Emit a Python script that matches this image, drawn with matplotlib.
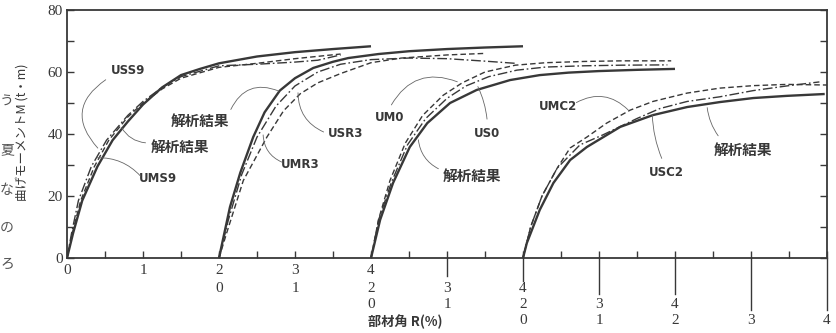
import numpy as np
import matplotlib
matplotlib.use("Agg")
import matplotlib.pyplot as plt
from matplotlib.transforms import blended_transform_factory

# fonts
plt.rcParams['font.family'] = ['Noto Sans CJK JP', 'DejaVu Sans']
ink = '#383838'

# --------------------------------------------------------------
# data: R (%) measured from each group's own origin, M (t・m)
# group offsets on the shared x axis
offsets = [0, 2, 4, 6]

# group 1 : USS9 / UMS9
g1_solid_r = [0, 0.08, 0.2, 0.4, 0.6, 0.8, 1.0, 1.25, 1.5, 1.75, 2.0, 2.5, 3.0, 3.5, 4.0]
g1_solid_m = [0, 8, 18.5, 29.5, 38, 44, 49.5, 55, 59, 61, 62.8, 65.0, 66.4, 67.4, 68.3]
g1_dash_r = [0, 0.07, 0.18, 0.36, 0.55, 0.8, 1.0, 1.25, 1.5, 2.0, 2.5, 3.0, 3.6]
g1_dash_m = [0, 8, 18.5, 29.5, 38, 45.5, 50, 54.5, 58, 61.5, 62.8, 64.3, 65.8]
g1_dd_r = [0, 0.06, 0.15, 0.32, 0.52, 0.8, 1.0, 1.25, 1.5, 2.0, 2.5, 3.0, 3.3, 3.6]
g1_dd_m = [0, 8, 18.5, 29.5, 38, 46, 50.5, 55, 58.5, 62, 62.5, 63.2, 63.8, 65.5]

# group 2 : USR3 / UMR3
g2_solid_r = [0, 0.145, 0.28, 0.45, 0.6, 0.8, 1.0, 1.24, 1.5, 1.7, 2.1, 2.5, 3.0, 3.5, 4.0]
g2_solid_m = [0, 16.5, 27.5, 39, 47, 54, 58, 61.3, 63.3, 64.5, 65.8, 66.7, 67.4, 67.9, 68.3]
g2_dash_r = [0, 0.1, 0.32, 0.63, 0.85, 1.07, 1.3, 1.6, 2.0, 2.4, 3.0, 3.5]
g2_dash_m = [0, 8, 25, 39, 47.5, 53, 56.5, 59.5, 63, 64.5, 65.5, 66]
g2_dd_r = [0, 0.12, 0.3, 0.5, 0.75, 1.0, 1.3, 1.6, 2.0, 2.5, 3.0, 3.5, 3.9]
g2_dd_m = [0, 12, 27, 39, 49, 55.5, 60, 62.5, 64, 64.5, 64.3, 63.5, 62.8]

# group 3 : UM0 / US0
g3_solid_r = [0, 0.12, 0.29, 0.51, 0.74, 1.04, 1.39, 1.83, 2.22, 2.6, 3.0, 3.5, 4.0]
g3_solid_m = [0, 12.3, 24.2, 35.8, 43.5, 50, 54.2, 57.4, 59, 59.8, 60.3, 60.7, 61]
g3_dash_r = [0, 0.1, 0.25, 0.45, 0.68, 0.95, 1.2, 1.5, 1.9, 2.3, 2.8, 3.3, 3.95]
g3_dash_m = [0, 12.5, 25, 37, 46, 52.5, 56.5, 60, 62.2, 63, 63.4, 63.6, 63.6]
g3_dd_r = [0, 0.1, 0.27, 0.48, 0.72, 1.0, 1.25, 1.55, 1.92, 2.3, 2.8, 3.3, 3.9]
g3_dd_m = [0, 12.3, 24.5, 36.5, 45, 51.5, 55.5, 58.5, 60.6, 61.6, 62, 62.2, 62.3]

# group 4 : UMC2 / USC2
g4_solid_r = [0, 0.05, 0.22, 0.4, 0.62, 0.84, 1.28, 1.71, 2.16, 2.59, 3.03, 3.47, 3.97]
g4_solid_m = [0, 4.8, 15.5, 24.2, 31.6, 35.8, 42.3, 46.1, 48.7, 50.3, 51.6, 52.3, 52.9]
g4_dash_r = [0, 0.1, 0.25, 0.45, 0.62, 0.84, 1.1, 1.41, 1.71, 2.16, 2.59, 3.03, 3.47, 4.0]
g4_dash_m = [0, 10, 20, 29, 35.5, 39, 43.5, 47.7, 50.5, 53.2, 54.8, 55.6, 56, 55.8]
g4_dd_r = [0, 0.1, 0.25, 0.45, 0.75, 1.05, 1.5, 1.8, 2.16, 2.59, 3.03, 3.47, 3.9]
g4_dd_m = [0, 10, 20, 29, 36.5, 39.7, 45, 48.2, 50.5, 52, 54, 55.5, 56.8]

groups = [
    (g1_solid_r, g1_solid_m, g1_dash_r, g1_dash_m, g1_dd_r, g1_dd_m),
    (g2_solid_r, g2_solid_m, g2_dash_r, g2_dash_m, g2_dd_r, g2_dd_m),
    (g3_solid_r, g3_solid_m, g3_dash_r, g3_dash_m, g3_dd_r, g3_dd_m),
    (g4_solid_r, g4_solid_m, g4_dash_r, g4_dash_m, g4_dd_r, g4_dd_m),
]

# x tick label rows: every row reads 0..4 starting at its own origin
row_values = [0, 1, 2, 3, 4]
row_starts = [0, 2, 4, 6]

# labels: (text, text position, leader start, leader end, curvature)
labels = [
    ('USS9', (0.80, 60.6), (0.54, 58.0), (0.43, 34.8), 0.6),
    ('解析結果', (1.49, 35.8), (1.07, 37.1), (0.70, 42.9), -0.3),
    ('UMS9', (1.20, 25.5), (0.99, 25.8), (0.36, 32.3), 0.25),
    ('解析結果', (1.75, 44.2), (2.14, 47.1), (2.82, 53.5), -0.5),
    ('USR3', (3.66, 40.3), (3.41, 40.3), (3.04, 54.2), -0.35),
    ('UMR3', (3.07, 30.0), (2.86, 30.6), (2.58, 40.6), -0.35),
    ('UM0', (4.25, 45.2), (4.25, 48.6), (5.17, 56.5), -0.45),
    ('US0', (5.53, 40.3), (5.53, 43.9), (5.39, 56.1), 0.1),
    ('解析結果', (5.33, 26.5), (4.92, 28.4), (4.62, 39.0), -0.3),
    ('UMC2', (6.46, 49.0), (6.67, 49.7), (7.41, 47.1), -0.4),
    ('USC2', (7.88, 27.7), (7.84, 31.3), (7.70, 47.1), -0.1),
    ('解析結果', (8.89, 34.8), (8.59, 38.7), (8.42, 49.4), -0.15),
]

# --------------------------------------------------------------
fig = plt.figure(figsize=(8.36, 3.33), dpi=100)
ax = fig.add_axes([67 / 836, 75 / 333, 760 / 836, 248 / 333])

for off, (sr, sm, dr, dm, ddr, ddm) in zip(offsets, groups):
    ax.plot(np.array(sr) + off, sm, color=ink, lw=1.7, solid_capstyle='butt')
    ax.plot(np.array(dr) + off, dm, color=ink, lw=1.0, dashes=(4, 2.2))
    ax.plot(np.array(ddr) + off, ddm, color=ink, lw=1.0, dashes=(7, 2, 1.2, 2))

# label texts and leader lines
for txt, tpos, lstart, lend, rad in labels:
    if txt == '解析結果':
        ax.text(tpos[0], tpos[1], txt, ha='center', va='center', fontsize=10.5,
                fontweight='bold', color=ink)
    else:
        ax.text(tpos[0], tpos[1], txt, ha='center', va='center', fontsize=8.5,
                fontweight='bold', color=ink, family=['DejaVu Sans'])
    ax.annotate('', xy=lend, xytext=lstart,
                arrowprops=dict(arrowstyle='-', lw=0.6, color='#666666',
                                connectionstyle='arc3,rad=%s' % rad))

# axes setup
ax.set_xlim(0, 10)
ax.set_ylim(0, 80)
for s in ax.spines.values():
    s.set_color(ink)
    s.set_linewidth(1.3)
ax.set_xticks(np.arange(0, 10.01, 0.5))
ax.set_xticklabels([])
ax.set_yticks(np.arange(0, 81, 10))
ax.set_yticklabels([str(v) if v % 20 == 0 else '' for v in range(0, 81, 10)],
                   family=['Liberation Serif'], fontsize=11, color=ink)
ax.tick_params(axis='both', direction='in', length=5, width=1.0, color=ink)
ax.tick_params(axis='y', right=True, pad=3)
ax.tick_params(axis='x', top=False)

# stacked x tick label rows
trans = blended_transform_factory(ax.transData, fig.transFigure)
row_y = [270, 288, 304, 320]
for start, py in zip(row_starts, row_y):
    for v in row_values:
        ax.text(start + v, (333 - py) / 333, str(v), transform=trans,
                ha='center', va='center', fontsize=11, color=ink,
                family=['Liberation Serif'])

# long leader ticks down to the lower rows
long_ticks = [5, 6, 7, 8, 9, 10]
long_ends = [276, 281, 294, 294, 310, 310]
for xv, ye in zip(long_ticks, long_ends):
    ax.plot([xv, xv], [(333 - 258) / 333, (333 - ye) / 333], transform=trans,
            color=ink, lw=1.0, clip_on=False)

# axis titles
fig.text(405 / 836, (333 - 322) / 333, '部材角 R(%)', ha='center', va='center',
         fontsize=9.5, fontweight='bold', color=ink)
fig.text(22 / 836, (333 - 132) / 333, '曲げモーメントM (t・m)', rotation=90,
         ha='center', va='center', fontsize=9, color=ink)

# characters of the neighbouring page column at the left edge
margin_chars = ['う', '夏', 'な', 'の', 'ろ']
margin_y = [102, 150, 190, 228, 264]
for ch, py in zip(margin_chars, margin_y):
    fig.text(7 / 836, (333 - py) / 333, ch, ha='center', va='center',
             fontsize=10, color='#555555')

fig.savefig('out.png', dpi=100)
